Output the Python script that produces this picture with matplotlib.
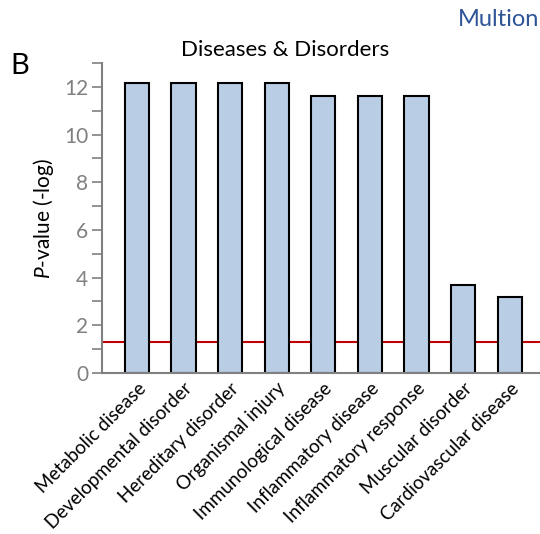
import matplotlib
matplotlib.use("Agg")
import matplotlib.pyplot as plt
from matplotlib.ticker import MultipleLocator

plt.rcParams['font.family'] = ['Lato', 'DejaVu Sans']
plt.rcParams['mathtext.fontset'] = 'custom'
plt.rcParams['mathtext.it'] = 'Lato:italic'
plt.rcParams['mathtext.rm'] = 'Lato'

categories = ["Metabolic disease", "Developmental disorder", "Hereditary disorder",
              "Organismal injury", "Immunological disease", "Inflammatory disease",
              "Inflammatory response", "Muscular disorder", "Cardiovascular disease"]
values = [12.17, 12.17, 12.17, 12.17, 11.62, 11.62, 11.62, 3.69, 3.19]
threshold = 1.3

fig = plt.figure(figsize=(5.4, 5.34), dpi=100)
ax = fig.add_axes([102/540, 1-373/534, 1-102/540, 310/534])

x = list(range(len(categories)))
ax.axhline(threshold, color='#C00000', lw=1.5, zorder=1)
ax.bar(x, values, width=0.52, color='#B9CDE5', edgecolor='black', linewidth=1.5, zorder=2)

ax.set_xlim(-0.75, 8.65)
ax.set_ylim(0, 13)
ax.yaxis.set_major_locator(MultipleLocator(2))
ax.yaxis.set_minor_locator(MultipleLocator(1))
ax.tick_params(axis='y', which='major', length=7, width=1.2, color='#808080',
               labelcolor='#808080', labelsize=15, pad=3)
ax.tick_params(axis='y', which='minor', length=7, width=1.2, color='#808080')
ax.tick_params(axis='x', length=0, pad=5)
for s in ['top', 'right']:
    ax.spines[s].set_visible(False)
for s in ['left', 'bottom']:
    ax.spines[s].set_color('#808080')
    ax.spines[s].set_linewidth(1.5)

ax.set_xticks(x)
ax.set_xticklabels(categories, rotation=45, ha='right', rotation_mode='anchor',
                   fontsize=13.5, color='black')
ax.set_ylabel(r"$\it{P}$-value (-log)", fontsize=15, labelpad=6)

fig.text(285/540, 1-50/534, "Diseases & Disorders", ha='center', va='center', fontsize=16)
fig.text(10/540, 1-66/534, "B", ha='left', va='center', fontsize=21)
fig.text(458/540, 1-20/534, "Multion", ha='left', va='center', fontsize=17, color='#2F5597')

fig.savefig("out.png", dpi=100)
